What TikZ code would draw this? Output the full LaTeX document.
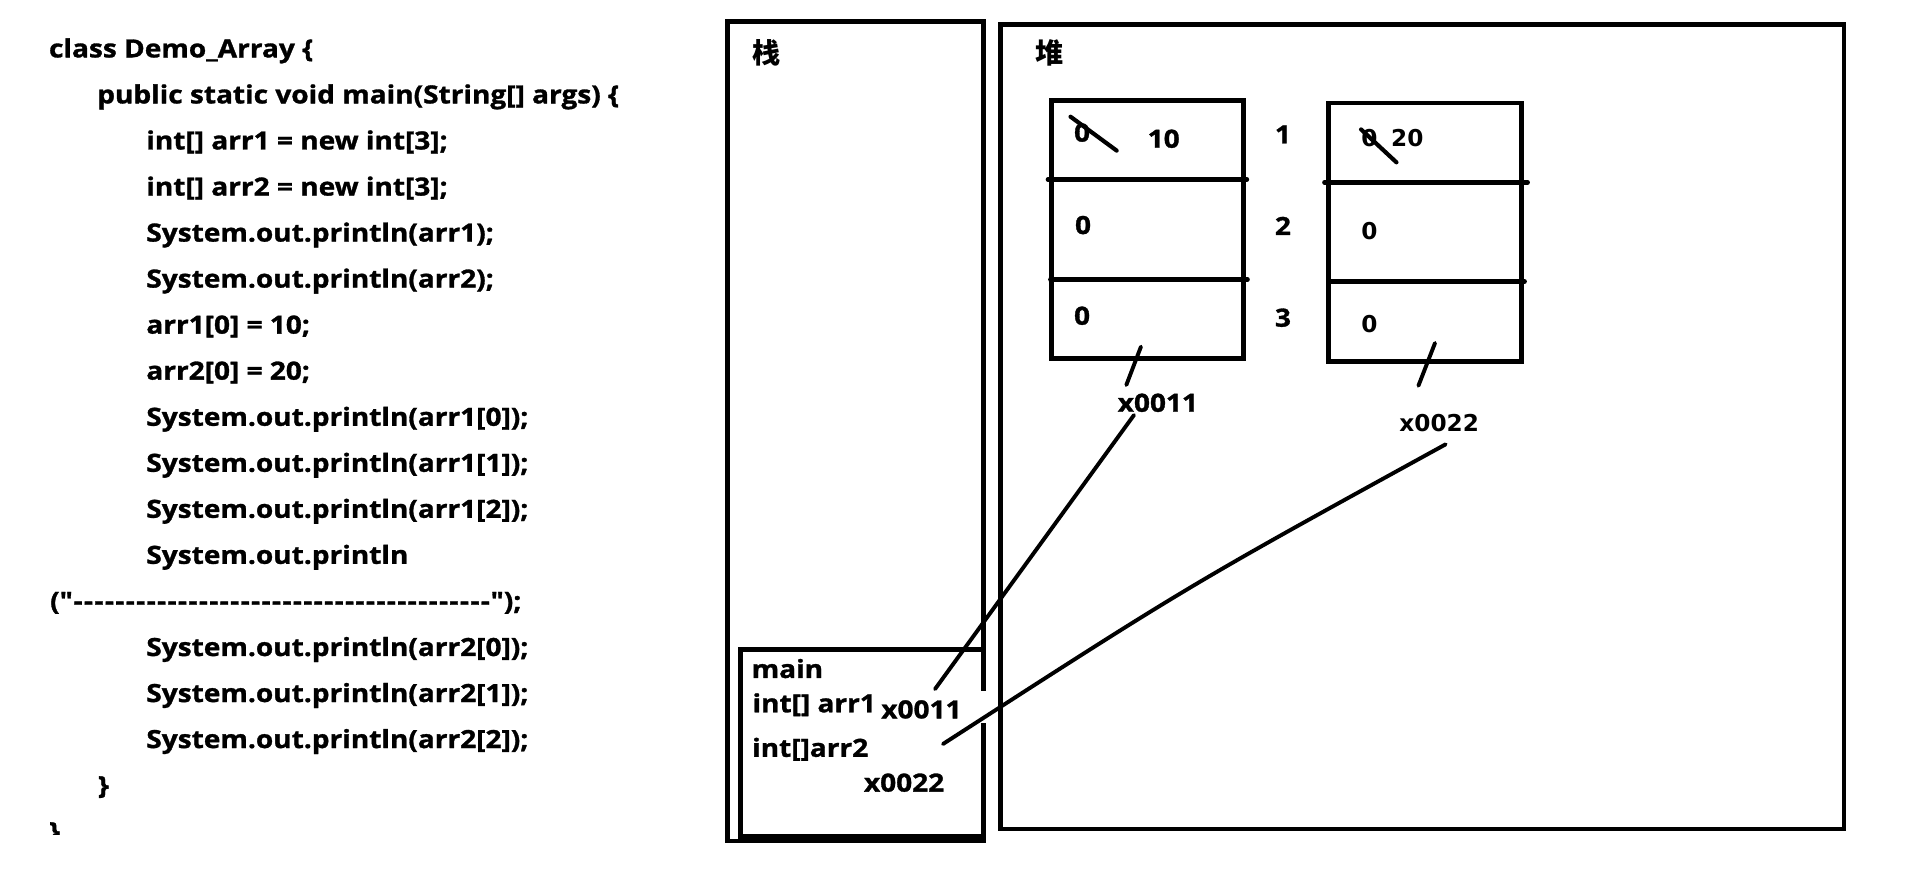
\documentclass[tikz,border=0pt]{standalone}
\usepackage{fontspec}
\setmainfont{Open Sans}
\newfontfamily\yh{Open Sans}[FakeStretch=1.12, BoldFeatures={FakeBold=1.2}]
\newfontfamily\cjk{Noto Sans CJK SC}
\newfontfamily\verd{DejaVu Sans}
\newcommand\codefont{\yh\bfseries\fontsize{20.5}{24}\selectfont}
\newcommand\verdfont{\verd\bfseries\fontsize{19}{22}\selectfont}
\newcommand\cjkfont{\cjk\bfseries\fontsize{23}{26}\selectfont}
\newcommand\dsh{\hbox to 8.55pt{\hss-\hss}}
\newcommand\dashten{\dsh\dsh\dsh\dsh\dsh\dsh\dsh\dsh\dsh\dsh}
\tikzset{
  code/.style={anchor=base west, inner sep=0pt, font=\codefont},
  val/.style={anchor=base west, inner sep=0pt, font=\codefont},
  idx/.style={anchor=base, inner sep=0pt, font=\codefont},
  vval/.style={anchor=base west, inner sep=0pt, font=\verdfont},
  title/.style={anchor=center, inner sep=0pt, font=\cjkfont},
  frame/.style={draw, line width=3.8pt},
  cell/.style={draw, line width=3.9pt},
  divider/.style={line width=3.7pt, line cap=round},
  stroke/.style={line width=3.4pt, line cap=round},
  link/.style={line width=3.2pt, line cap=round}
}
\begin{document}
\begin{tikzpicture}[x=1pt,y=-1pt]
\fill[white] (0,0) rectangle (1568,725.8);
\useasboundingbox (0,0) rectangle (1568,725.8);

% ---- code listing ----
\node[code] (c0)  at (40,47.0)   {class Demo\_Array \{};
\node[code] (c1)  at (79.5,84.7)   {public static void main(String[] args) \{};
\node[code] (c2)  at (119.7,122.4) {int[] arr1 = new int[3];};
\node[code] (c3)  at (119.7,160.2) {int[] arr2 = new int[3];};
\node[code] (c4)  at (119.7,197.9) {System.out.println(arr1);};
\node[code] (c5)  at (119.7,235.6) {System.out.println(arr2);};
\node[code] (c6)  at (119.7,273.3) {arr1[0] = 10;};
\node[code] (c7)  at (119.7,311.0) {arr2[0] = 20;};
\node[code] (c8)  at (119.7,348.8) {System.out.println(arr1[0]);};
\node[code] (c9)  at (119.7,386.5) {System.out.println(arr1[1]);};
\node[code] (c10) at (119.7,424.2) {System.out.println(arr1[2]);};
\node[code] (c11) at (119.7,461.9) {System.out.println};
\node[code] (c12) at (40.9,499.6)  {("\dashten\dashten\dashten\dashten");};
\node[code] (c13) at (119.7,537.4) {System.out.println(arr2[0]);};
\node[code] (c14) at (119.7,575.1) {System.out.println(arr2[1]);};
\node[code] (c15) at (119.7,612.8) {System.out.println(arr2[2]);};
\node[code] (c16) at (80,650.5)    {\}};
\begin{scope}
  \clip (0,0) rectangle (300,684);
  \node[code] (c17) at (40,688.2) {\}};
\end{scope}

% ---- stack ----
\draw[frame] (596,17.8) rectangle (805.9,689);
\node[title] (stack) at (628,43.4) {栈};
\draw[frame] (606.4,532) rectangle (805.9,685.5);
\node[code] (mainlbl) at (615.6,555.4) {main};
\node[code] (arr1lbl) at (616.3,583.5) {int[] arr1};
\node[code] (arr2lbl) at (616,620) {int[]arr2};
\node[code] (ref2) at (707.6,648.5) {x0022};

% ---- heap ----
\draw[frame] (819.8,20.2) rectangle (1510.5,679);
\node[title] (heap) at (860,43.7) {堆};

% array 1
\draw[cell] (861.5,82.3) rectangle (1019,293.5);
\draw[divider] (858.5,147) -- (1021.5,147);
\draw[divider] (860.5,229) -- (1022,229);
\node[val] (a10) at (879.7,116) {0};
\node[val] (a10n) at (940,121) {10};
\node[val] (a11) at (880.5,191.7) {0};
\node[val] (a12) at (879.7,266) {0};
\draw[stroke] (877,95.6) -- (914.8,123.4);
\node[idx] (i1) at (1051,117.4) {1};
\node[idx] (i2) at (1051,192.5) {2};
\node[idx] (i3) at (1051,267.6) {3};

% array 2
\draw[cell] (1088.2,84.4) rectangle (1246.5,296.2);
\draw[divider] (1085,149.4) -- (1251.5,149.4);
\draw[divider] (1088.5,230.5) -- (1249,230.5);
\node[vval] (b10) at (1115,120) {0};
\node[vval] (b10n) at (1139.5,120) {20};
\node[vval] (b11) at (1115,196.5) {0};
\node[vval] (b12) at (1115,272) {0};
\draw[stroke] (1115,106) -- (1144,133);

% address labels in heap
\node[val] (h1) at (915.5,337.3) {x0011};
\node[vval, anchor=base] (h2) at (1179,353.5) {x0022};

% connectors
\coordinate (t1a) at (934.7,284);
\coordinate (t1b) at (922.7,315.4);
\coordinate (t2a) at (1175.6,281);
\coordinate (t2b) at (1162,316);
\coordinate (p1a) at (929,340);
\coordinate (p1b) at (766,564.5);
\coordinate (p2a) at (1184.3,364);
\coordinate (p2b) at (772.5,609.5);
\coordinate (p2c) at (974,479.5);
\draw[link] (t1a) -- (t1b);
\draw[link] (t2a) -- (t2b);
\draw[link] (p1a) -- (p1b);

% white patch with stack value x0011
\fill[white] (720,566) rectangle (808,592);
\draw[link] (p2a) .. controls (p2c) .. (p2b);
\node[val] (ref1) at (721.8,588.5) {x0011};
\end{tikzpicture}
\end{document}
